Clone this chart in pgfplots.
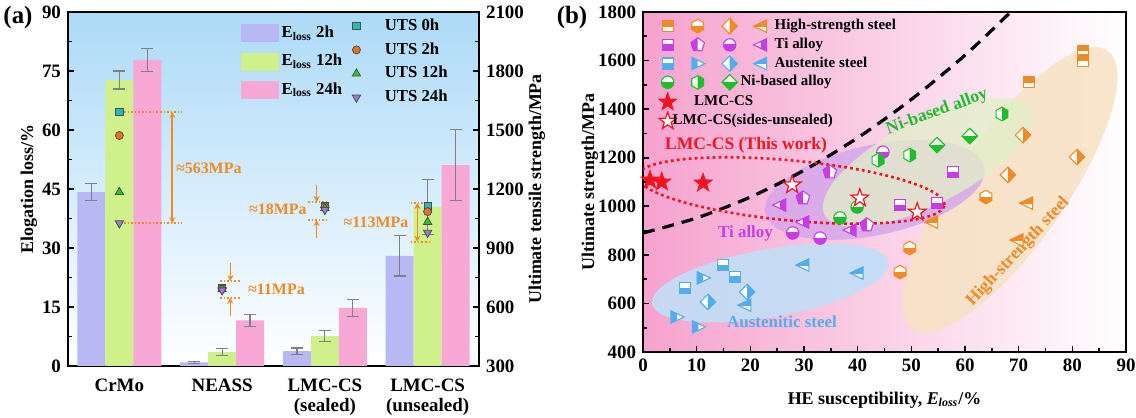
\documentclass[border=0pt]{standalone}
\usepackage{fontspec}
\setmainfont{Liberation Serif}
\usepackage{pgfplots}
\pgfplotsset{compat=1.18}
\usetikzlibrary{arrows.meta}

\definecolor{bgblue}{RGB}{172,218,248}
\definecolor{bgpink}{RGB}{246,162,206}
\definecolor{c2h}{RGB}{184,184,244}
\definecolor{c12h}{RGB}{208,240,140}
\definecolor{c24h}{RGB}{248,168,212}
\definecolor{errgray}{RGB}{128,128,128}
\definecolor{annor}{RGB}{240,138,36}
\definecolor{uts0}{RGB}{40,185,190}
\definecolor{uts2}{RGB}{240,112,32}
\definecolor{uts12}{RGB}{40,200,40}
\definecolor{uts24}{RGB}{160,120,220}
\definecolor{hsC}{RGB}{240,138,36}
\definecolor{tiC}{RGB}{200,60,230}
\definecolor{auC}{RGB}{80,174,238}
\definecolor{niC}{RGB}{30,190,40}
\definecolor{lmcred}{RGB}{240,20,30}
\definecolor{regAu}{RGB}{190,225,248}
\definecolor{regTi}{RGB}{210,164,236}
\definecolor{regNi}{RGB}{226,240,200}
\definecolor{regHS}{RGB}{248,226,196}

\newcommand\tickfont{\bfseries\fontsize{9.5}{10}\selectfont}
\newcommand\labfont{\bfseries\fontsize{9}{10}\selectfont}
\newcommand\legfont{\bfseries\fontsize{8.4}{9}\selectfont}
\newcommand\legbfont{\bfseries\fontsize{7.5}{8}\selectfont}
\newcommand\annfont{\bfseries\fontsize{8}{9}\selectfont}

% half filled marks
\newcommand\mkpt[2]{\pgfpoint{#1*\pgfplotmarksize}{#2*\pgfplotmarksize}}
\newcommand\shSq{\pgfpathrectangle{\mkpt{-0.9}{-0.9}}{\mkpt{1.8}{1.8}}}
\newcommand\shCirc{\pgfpathcircle{\pgfpointorigin}{\pgfplotmarksize}}
\newcommand\shDia{\pgfpathmoveto{\mkpt{0}{1.25}}\pgfpathlineto{\mkpt{1.25}{0}}%
  \pgfpathlineto{\mkpt{0}{-1.25}}\pgfpathlineto{\mkpt{-1.25}{0}}\pgfpathclose}
\newcommand\shHex{\pgfpathmoveto{\mkpt{0}{1.1}}\pgfpathlineto{\mkpt{0.953}{0.55}}%
  \pgfpathlineto{\mkpt{0.953}{-0.55}}\pgfpathlineto{\mkpt{0}{-1.1}}%
  \pgfpathlineto{\mkpt{-0.953}{-0.55}}\pgfpathlineto{\mkpt{-0.953}{0.55}}\pgfpathclose}
\newcommand\shPent{\pgfpathmoveto{\mkpt{0}{1.15}}\pgfpathlineto{\mkpt{1.094}{0.355}}%
  \pgfpathlineto{\mkpt{0.676}{-0.93}}\pgfpathlineto{\mkpt{-0.676}{-0.93}}%
  \pgfpathlineto{\mkpt{-1.094}{0.355}}\pgfpathclose}
\newcommand\shLtri{\pgfpathmoveto{\mkpt{-1.15}{0}}\pgfpathlineto{\mkpt{0.95}{1}}%
  \pgfpathlineto{\mkpt{0.95}{-1}}\pgfpathclose}
\newcommand\shRtri{\pgfpathmoveto{\mkpt{1.15}{0}}\pgfpathlineto{\mkpt{-0.95}{1}}%
  \pgfpathlineto{\mkpt{-0.95}{-1}}\pgfpathclose}
\newcommand\shStar{\pgfpathmoveto{\mkpt{0}{1.3}}\pgfpathlineto{\mkpt{-0.306}{0.421}}%
  \pgfpathlineto{\mkpt{-1.236}{0.402}}\pgfpathlineto{\mkpt{-0.495}{-0.161}}%
  \pgfpathlineto{\mkpt{-0.764}{-1.052}}\pgfpathlineto{\mkpt{0}{-0.52}}%
  \pgfpathlineto{\mkpt{0.764}{-1.052}}\pgfpathlineto{\mkpt{0.495}{-0.161}}%
  \pgfpathlineto{\mkpt{1.236}{0.402}}\pgfpathlineto{\mkpt{0.306}{0.421}}\pgfpathclose}
\newcommand\clT{\pgfpathrectangle{\mkpt{-1.3}{0}}{\mkpt{2.6}{1.3}}}
\newcommand\clB{\pgfpathrectangle{\mkpt{-1.3}{-1.3}}{\mkpt{2.6}{1.3}}}
\newcommand\clL{\pgfpathrectangle{\mkpt{-1.3}{-1.3}}{\mkpt{1.3}{2.6}}}
\newcommand\clR{\pgfpathrectangle{\mkpt{0}{-1.3}}{\mkpt{1.3}{2.6}}}
\newcommand\defhalf[3]{%
  \pgfdeclareplotmark{#1}{%
    \begin{pgfscope}\pgfsetfillcolor{white}#2\pgfusepathqfill\end{pgfscope}%
    \begin{pgfscope}#3\pgfusepathqclip#2\pgfusepathqfill\end{pgfscope}%
    #2\pgfusepathqstroke}}
\defhalf{sqT}{\shSq}{\clT}
\defhalf{sqB}{\shSq}{\clB}
\defhalf{hexB}{\shHex}{\clB}
\defhalf{hexR}{\shHex}{\clR}
\defhalf{diaR}{\shDia}{\clR}
\defhalf{diaB}{\shDia}{\clB}
\defhalf{ltriT}{\shLtri}{\clT}
\defhalf{ltriR}{\shLtri}{\clR}
\defhalf{pentL}{\shPent}{\clL}
\defhalf{circB}{\shCirc}{\clB}
\defhalf{rtriL}{\shRtri}{\clL}
\pgfdeclareplotmark{fstar}{\shStar\pgfusepathqfillstroke}

\pgfplotsset{
  pm/.style 2 args={only marks, mark=#1, mark size=3.1bp, forget plot,
    mark options={draw=#2, fill=#2, solid, line width=0.55bp}},
  ebar/.style={error bars/y dir=both, error bars/y explicit,
    error bars/error bar style={draw=errgray, line width=0.6bp},
    error bars/error mark options={draw=errgray, line width=0.6bp, mark size=3bp, rotate=90}},
  common/.style={scale only axis, anchor=south west,
    axis line style={line width=0.8bp}, tick align=inside,
    major tick length=3bp, minor tick length=1.8bp,
    tick style={line width=0.8bp, black},
    /pgf/number format/assume math mode=true,
    /pgf/number format/1000 sep={},
    ticklabel style={font=\tickfont}},
}
\newcommand\lgmk[3]{\path plot[only marks, mark=#2, mark size=3.1bp,
  mark options={draw=#3, fill=#3, line width=0.55bp}] coordinates {(#1,0bp)};}
\newcommand\lgsp{\path[draw=none, fill=none] (0bp,-3.5bp) rectangle (56bp,3.5bp);}

\begin{document}
\begin{tikzpicture}
\useasboundingbox (0,0) rectangle (568bp,209bp);
\node[font=\bfseries\fontsize{12.5}{14}\selectfont] at (9bp,200bp) {(a)};
\node[font=\bfseries\fontsize{12.5}{14}\selectfont] at (286bp,200bp) {(b)};

% ---------- (a) bars ----------
\begin{axis}[common,
  at={(34bp,26bp)}, width=205.5bp, height=177bp,
  xmin=-0.5, xmax=3.5, ymin=0, ymax=90,
  ytick={0,15,...,90}, minor y tick num=1,
  xtick={0,1,2,3},
  xticklabels={CrMo,NEASS,{LMC-CS\\(sealed)},{LMC-CS\\(unsealed)}},
  xticklabel style={align=center},
  x tick style={draw=none},
  ytick pos=left,
  ylabel={Elogation loss/\%},
  ylabel style={font=\labfont, at={(axis description cs:-0.095,0.5)}, anchor=center},
  axis background/.style={top color=bgblue, bottom color=white},
  ybar, bar width=0.272,
  legend image code/.code={\fill[#1] (0bp,-4.5bp) rectangle (19bp,4.5bp);},
  legend style={at={(axis description cs:0.406,0.98)}, anchor=north west,
    draw=none, fill=none, font=\legfont, row sep=4.5bp,
    nodes={inner sep=1.2bp}},
  legend cell align=left,
]
\addplot[fill=c2h, draw=none, bar shift=-0.272, ebar] coordinates {
  (0,44.2) +- (0,2.1) (1,0.9) +- (0,0.25) (2,3.8) +- (0,0.8) (3,28.0) +- (0,5.1)};
\addplot[fill=c12h, draw=none, bar shift=0, ebar] coordinates {
  (0,72.7) +- (0,2.3) (1,3.6) +- (0,0.95) (2,7.6) +- (0,1.4) (3,40.5) +- (0,7.0)};
\addplot[fill=c24h, draw=none, bar shift=0.272, ebar] coordinates {
  (0,77.8) +- (0,3.0) (1,11.6) +- (0,1.5) (2,14.8) +- (0,2.2) (3,51.1) +- (0,9.1)};
\addlegendentry{E\textsubscript{loss} 2h}
\addlegendentry{E\textsubscript{loss} 12h}
\addlegendentry{E\textsubscript{loss} 24h}
\end{axis}

% ---------- (a) UTS ----------
\begin{axis}[common,
  at={(34bp,26bp)}, width=205.5bp, height=177bp,
  xmin=-0.5, xmax=3.5, ymin=300, ymax=2100,
  axis y line*=right, axis x line=none,
  ytick={300,600,...,2100}, minor y tick num=1,
  ylabel={Ultimate tensile strength/MPa},
  ylabel style={font=\labfont, at={(axis description cs:1.141,0.5)}, anchor=center},
  legend image code/.code={\path[draw=none, fill=none] (-5bp,-3bp) rectangle (13bp,3bp);
    \draw[#1] plot coordinates {(0bp,0bp)};},
  legend style={at={(axis description cs:0.662,1.0)}, anchor=north west,
    draw=none, fill=none, font=\legfont, row sep=2.2bp,
    nodes={inner sep=1.2bp}},
  legend cell align=left,
]
\addplot[only marks, mark=square*, mark size=1.8bp,
  mark options={fill=uts0, draw=black!70, line width=0.4bp}]
  coordinates {(0,1592) (1,696) (2,1112) (3,1112)};
\addplot[only marks, mark=*, mark size=2bp,
  mark options={fill=uts2, draw=black!70, line width=0.4bp}]
  coordinates {(0,1472) (1,693) (2,1108) (3,1085)};
\addplot[only marks, mark=triangle*, mark size=2.4bp,
  mark options={fill=uts12, draw=black!70, line width=0.4bp}]
  coordinates {(0,1184) (1,690) (2,1102) (3,1032)};
\addplot[only marks, mark=triangle*, mark size=2.4bp,
  mark options={fill=uts24, draw=black!70, line width=0.4bp, rotate=180}]
  coordinates {(0,1026) (1,685) (2,1094) (3,978)};
\addlegendentry{UTS 0h}
\addlegendentry{UTS 2h}
\addlegendentry{UTS 12h}
\addlegendentry{UTS 24h}
% annotations
\draw[annor, densely dotted, line width=0.8bp] (axis cs:0.01,1592) -- (axis cs:0.61,1592);
\draw[annor, densely dotted, line width=0.8bp] (axis cs:0.01,1026) -- (axis cs:0.61,1026);
\draw[annor, line width=0.8bp, {Stealth[length=3bp,width=3bp]}-{Stealth[length=3bp,width=3bp]}]
  (axis cs:0.515,1592) -- (axis cs:0.515,1026);
\node[annor, font=\annfont] at (axis cs:0.87,1307) {≈563MPa};
\draw[annor, densely dotted, line width=0.8bp] (axis cs:0.98,732) -- (axis cs:1.17,732);
\draw[annor, densely dotted, line width=0.8bp] (axis cs:0.98,647) -- (axis cs:1.17,647);
\draw[annor, line width=0.8bp, -{Stealth[length=3bp,width=3bp]}] (axis cs:1.08,824) -- (axis cs:1.08,732);
\draw[annor, line width=0.8bp, -{Stealth[length=3bp,width=3bp]}] (axis cs:1.08,554) -- (axis cs:1.08,647);
\node[annor, font=\annfont, anchor=west] at (axis cs:1.185,692) {≈11MPa};
\draw[annor, densely dotted, line width=0.8bp] (axis cs:1.835,1134) -- (axis cs:2.02,1134);
\draw[annor, densely dotted, line width=0.8bp] (axis cs:1.835,1042) -- (axis cs:2.02,1042);
\draw[annor, line width=0.8bp, -{Stealth[length=3bp,width=3bp]}] (axis cs:1.92,1220) -- (axis cs:1.92,1134);
\draw[annor, line width=0.8bp, -{Stealth[length=3bp,width=3bp]}] (axis cs:1.92,951) -- (axis cs:1.92,1042);
\node[annor, font=\annfont, anchor=east] at (axis cs:1.89,1098) {≈18MPa};
\draw[annor, densely dotted, line width=0.8bp] (axis cs:2.835,1129) -- (axis cs:3.03,1129);
\draw[annor, densely dotted, line width=0.8bp] (axis cs:2.835,932) -- (axis cs:3.03,932);
\draw[annor, line width=0.8bp, {Stealth[length=3bp,width=3bp]}-{Stealth[length=3bp,width=3bp]}]
  (axis cs:2.90,1129) -- (axis cs:2.90,932);
\node[annor, font=\annfont, anchor=east] at (axis cs:2.88,1029) {≈113MPa};
\end{axis}

% ---------- (b) ----------
\begin{axis}[common,
  at={(321.5bp,33bp)}, width=241.5bp, height=170bp,
  xmin=0, xmax=90, ymin=400, ymax=1800,
  xtick={0,10,...,90}, ytick={400,600,...,1800},
  minor x tick num=1, minor y tick num=1, tick pos=left,
  xlabel={HE susceptibility, \textit{E}\textsubscript{\textit{loss}}/\%},
  ylabel={Ultimate strength/MPa},
  xlabel style={font=\labfont, at={(axis description cs:0.5,-0.141)}, anchor=center},
  ylabel style={font=\labfont, at={(axis description cs:-0.11,0.5)}, anchor=center},
  axis background/.style={left color=bgpink, right color=white},
  legend style={at={(axis description cs:0.02,0.995)}, anchor=north west,
    draw=none, fill=none, font=\legbfont, row sep=1.3bp,
    nodes={inner sep=0.5bp}},
  legend cell align=left,
]
% regions
\fill[regHS, opacity=0.85, rotate around={55:(axis cs:68.4,1067)}]
  (axis cs:68.4,1067) ellipse [x radius=85bp, y radius=27.5bp];
\fill[regAu, opacity=0.85, rotate around={10:(axis cs:23.7,684)}]
  (axis cs:23.7,684) ellipse [x radius=60bp, y radius=17bp];
\fill[regTi, opacity=0.78, rotate around={12:(axis cs:43.2,1067)}]
  (axis cs:43.2,1067) ellipse [x radius=56bp, y radius=22.5bp];
\fill[regNi, opacity=0.75, rotate around={27:(axis cs:53.1,1182)}]
  (axis cs:53.1,1182) ellipse [x radius=58bp, y radius=21bp];
% guide curve
\addplot[black, smooth, line width=1.6bp, dash pattern=on 6bp off 4bp, forget plot]
  coordinates {(0,890) (10,952) (20,1038) (30,1148) (40,1282) (50,1440) (60,1622) (68.5,1800)};
\draw[lmcred, line width=1.3bp, dash pattern=on 1.4bp off 1.6bp,
  rotate around={-5.4:(axis cs:27.6,1065)}]
  (axis cs:27.6,1065) ellipse [x radius=77bp, y radius=15bp];
% data
\addplot[pm={sqT}{hsC}] coordinates {(82.0,1640) (82.0,1600) (71.9,1511)};
\addplot[pm={hexB}{hsC}] coordinates {(49.7,828) (47.9,729) (63.9,1038)};
\addplot[pm={diaR}{hsC}] coordinates {(70.8,1293) (68.0,1129) (80.9,1203)};
\addplot[pm={ltriT}{hsC}] coordinates {(71.5,1013) (69.7,861) (53.8,935)};
\addplot[pm={sqB}{tiC}] coordinates {(57.8,1141) (47.9,1005) (54.8,1013)};
\addplot[pm={pentL}{tiC}] coordinates {(34.8,1141) (29.8,1034) (41.7,923)};
\addplot[pm={circB}{tiC}] coordinates {(27.9,890) (33.0,869) (44.7,1223)};
\addplot[pm={ltriR}{tiC}] coordinates {(25.5,1005) (29.8,935) (38.6,902)};
\addplot[pm={sqB}{auC}] coordinates {(7.8,663) (14.9,758) (17.1,709)};
\addplot[pm={rtriL}{auC}] coordinates {(6.3,544) (10.3,503) (11.2,705)};
\addplot[pm={diaR}{auC}] coordinates {(12.1,606) (19.4,647)};
\addplot[pm={ltriT}{auC}] coordinates {(29.8,758) (19.0,593) (39.9,725)};
\addplot[pm={circB}{niC}] coordinates {(36.7,952) (39.9,997)};
\addplot[pm={hexR}{niC}] coordinates {(49.7,1211) (66.9,1380) (43.8,1190)};
\addplot[pm={diaB}{niC}] coordinates {(54.8,1252) (60.9,1289)};
\addplot[only marks, mark=fstar, mark size=3.6bp, forget plot,
  mark options={draw=lmcred, fill=lmcred, line width=0.5bp}]
  coordinates {(1.3,1108) (3.5,1100) (11.2,1096)};
\addplot[only marks, mark=fstar, mark size=3.6bp, forget plot,
  mark options={draw=lmcred, fill=white, line width=0.6bp}]
  coordinates {(27.8,1088) (40.4,1034) (51.1,976)};
% labels
\node[lmcred, font=\bfseries\fontsize{8.8}{9}\selectfont] at (axis cs:19.2,1250) {LMC-CS (This work)};
\node[tiC, font=\bfseries\fontsize{8.5}{9}\selectfont] at (axis cs:19.1,890) {Ti alloy};
\node[auC, font=\bfseries\fontsize{8.5}{9}\selectfont] at (axis cs:25.9,523) {Austenitic steel};
\node[niC, font=\bfseries\fontsize{8.8}{9}\selectfont, rotate=20] at (axis cs:54.8,1388) {Ni-based alloy};
\node[hsC, font=\bfseries\fontsize{8.8}{9}\selectfont, rotate=47] at (axis cs:69.9,812) {High-strength steel};
% legend
\addlegendimage{legend image code/.code={\lgsp\lgmk{3bp}{sqT}{hsC}\lgmk{18bp}{hexB}{hsC}\lgmk{34bp}{diaR}{hsC}\lgmk{49.5bp}{ltriT}{hsC}}}
\addlegendentry{High-strength steel}
\addlegendimage{legend image code/.code={\lgsp\lgmk{3bp}{sqB}{tiC}\lgmk{18bp}{pentL}{tiC}\lgmk{34bp}{circB}{tiC}\lgmk{49.5bp}{ltriR}{tiC}}}
\addlegendentry{Ti alloy}
\addlegendimage{legend image code/.code={\lgsp\lgmk{3bp}{sqB}{auC}\lgmk{18bp}{rtriL}{auC}\lgmk{34bp}{diaR}{auC}\lgmk{49.5bp}{ltriT}{auC}}}
\addlegendentry{Austenite steel}
\addlegendimage{legend image code/.code={\lgsp\lgmk{3bp}{circB}{niC}\lgmk{18bp}{hexR}{niC}\lgmk{34bp}{diaB}{niC}}}
\addlegendentry{\hspace{-17bp}Ni-based alloy}
\addlegendimage{legend image code/.code={\lgsp\path plot[only marks, mark=fstar, mark size=3.5bp,
  mark options={draw=lmcred, fill=lmcred, line width=0.5bp}] coordinates {(3bp,0bp)};}}
\addlegendentry{\hspace{-51bp}LMC-CS}
\addlegendimage{legend image code/.code={\lgsp\path plot[only marks, mark=fstar, mark size=3.5bp,
  mark options={draw=lmcred, fill=white, line width=0.6bp}] coordinates {(3bp,0bp)};}}
\addlegendentry{\hspace{-51bp}LMC-CS(sides-unsealed)}
\end{axis}
\end{tikzpicture}
\end{document}
